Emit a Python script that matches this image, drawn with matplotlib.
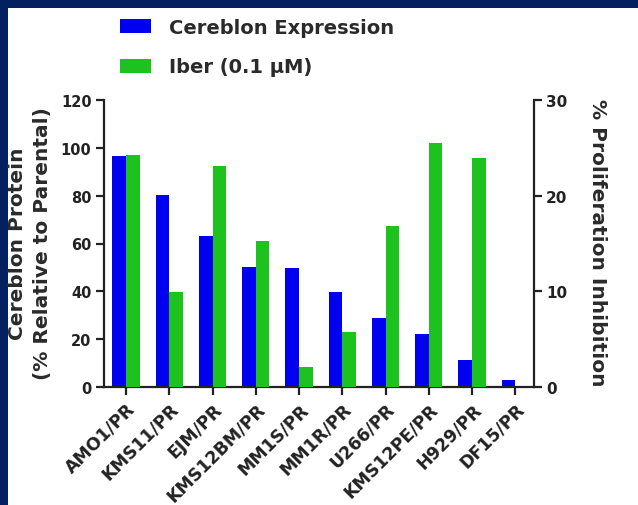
import matplotlib.pyplot as plt
import matplotlib.patches as mpatches
import numpy as np

plt.rcParams['font.family'] = ['DejaVu Sans']

# data
cell_lines = ['AMO1/PR', 'KMS11/PR', 'EJM/PR', 'KMS12BM/PR', 'MM1S/PR',
              'MM1R/PR', 'U266/PR', 'KMS12PE/PR', 'H929/PR', 'DF15/PR']
cereblon = [96.6, 80.4, 63.2, 50.2, 49.7, 39.8, 29.0, 22.1, 11.4, 2.8]
iber = [24.3, 9.9, 23.05, 15.3, 2.05, 5.7, 16.8, 25.5, 23.9, 0]

blue = '#0000f0'
green = '#1ec21e'

fig = plt.figure(figsize=(6.38, 5.06), dpi=100)
fig.patch.set_facecolor('#03215f')
# white panel inside the dark frame
fig.patches.append(mpatches.Rectangle((8 / 638, 0), 1, 1 - 9 / 506,
                                      transform=fig.transFigure,
                                      facecolor='white', edgecolor='none', zorder=-5))

ax = fig.add_axes([104 / 638, (506 - 388) / 506, 429.5 / 638, 287 / 506])
ax.set_facecolor('none')
ax2 = ax.twinx()

x = np.arange(len(cell_lines))
w = 0.315
b1 = ax.bar(x - w / 2, cereblon, w, color=blue, label='Cereblon Expression')
b2 = ax2.bar(x + w / 2, iber, w, color=green, label='Iber (0.1 \u03bcM)')

ax.set_xlim(-0.51, 9.42)
ax.set_ylim(0, 120)
ax.set_yticks([0, 20, 40, 60, 80, 100, 120])
ax2.set_ylim(0, 30)
ax2.set_yticks([0, 10, 20, 30])

for a in (ax, ax2):
    a.spines['top'].set_visible(False)
    for s in a.spines.values():
        s.set_linewidth(1.6)
        s.set_color('#222222')
    a.tick_params(direction='out', length=6, width=1.6, color='#222222', pad=3)
ax.spines['right'].set_visible(False)
ax2.spines['left'].set_visible(False)
ax2.spines['bottom'].set_visible(False)
ax.tick_params(axis='y', labelsize=10.5)
ax2.tick_params(axis='y', labelsize=11)

ax.set_xticks(x)
ax.set_xticklabels(cell_lines, rotation=45, ha='right', rotation_mode='anchor',
                   fontsize=12.5, fontweight='bold', color='#222222')
for lab in ax.get_yticklabels() + ax2.get_yticklabels():
    lab.set_fontweight('bold')
    lab.set_color('#222222')

fig.text(30 / 638, 1 - 244 / 506, 'Cereblon Protein\n(% Relative to Parental)',
         rotation=90, ha='center', va='center', multialignment='center',
         fontsize=14.5, fontweight='bold', linespacing=1.35, color='#2a2a2a')
fig.text(598 / 638, 1 - 243 / 506, '% Proliferation Inhibition',
         rotation=270, ha='center', va='center',
         fontsize=14.5, fontweight='bold', color='#2a2a2a')

fig.legend(handles=[b1, b2], loc='upper left', bbox_to_anchor=(120 / 638, 1 - 19 / 506),
           frameon=False, prop={'size': 14, 'weight': 'bold'},
           handlelength=1.6, handleheight=0.72, labelspacing=1.05,
           handletextpad=0.9, borderpad=0, borderaxespad=0, labelcolor='#2a2a2a')

fig.savefig('out.png', dpi=100, facecolor=fig.get_facecolor())
